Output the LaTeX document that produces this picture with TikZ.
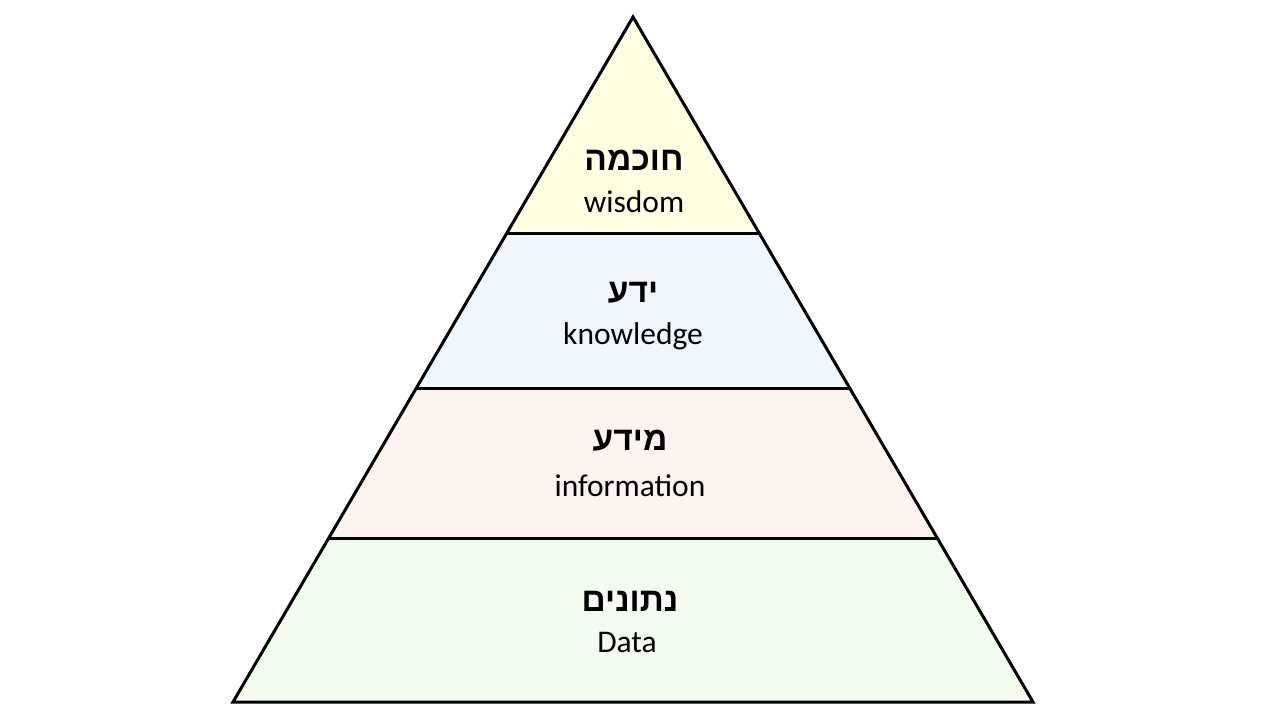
\documentclass[tikz,border=0pt]{standalone}
\usepackage{fontspec}
\setmainfont{Carlito}
\newfontfamily\hebfont[Script=Hebrew]{Liberation Sans}
\TeXXeTstate=1
\definecolor{cwis}{HTML}{FEFEE0}
\definecolor{ckno}{HTML}{EFF7FD}
\definecolor{cinf}{HTML}{FDF4F0}
\definecolor{cdat}{HTML}{F2FDF0}
\tikzset{
  layer/.style={draw=black,line width=3pt,line join=miter},
  heb/.style={font=\hebfont\bfseries\fontsize{33.5}{38}\selectfont,inner sep=0pt,anchor=center},
  lat/.style={font=\fontsize{31.5}{36}\selectfont,inner sep=0pt,anchor=base}
}
\begin{document}
\begin{tikzpicture}[x=1pt,y=-1pt]
\useasboundingbox (0,0) rectangle (1280,720);
\coordinate (apex) at (633,17);
\coordinate (bl) at (233,702);
\coordinate (br) at (1033,702);
% layers
\fill[cdat] (233,702) -- (329,538) -- (937,538) -- (1033,702) -- cycle;
\fill[cinf] (329,538) -- (417,388) -- (849,388) -- (937,538) -- cycle;
\fill[ckno] (417,388) -- (507,233) -- (759,233) -- (849,388) -- cycle;
\fill[cwis] (507,233) -- (633,17) -- (759,233) -- cycle;
\draw[layer] (329,538) -- (937,538);
\draw[layer] (417,388) -- (849,388);
\draw[layer] (507,233) -- (759,233);
\draw[layer] (apex) -- (bl) -- (br) -- cycle;
% texts
\node[heb] (h1) at (634,160) {\beginR חוכמה\endR};
\node[lat] (l1) at (634,212) {wisdom};
\node[heb] (h2) at (633,293) {\beginR ידע\endR};
\node[lat] (l2) at (633,344) {knowledge};
\node[heb] (h3) at (630,441) {\beginR מידע\endR};
\node[lat] (l3) at (630,496) {information};
\node[heb] (h4) at (630,601) {\beginR נתונים\endR};
\node[lat] (l4) at (627,652) {Data};
\end{tikzpicture}
\end{document}
